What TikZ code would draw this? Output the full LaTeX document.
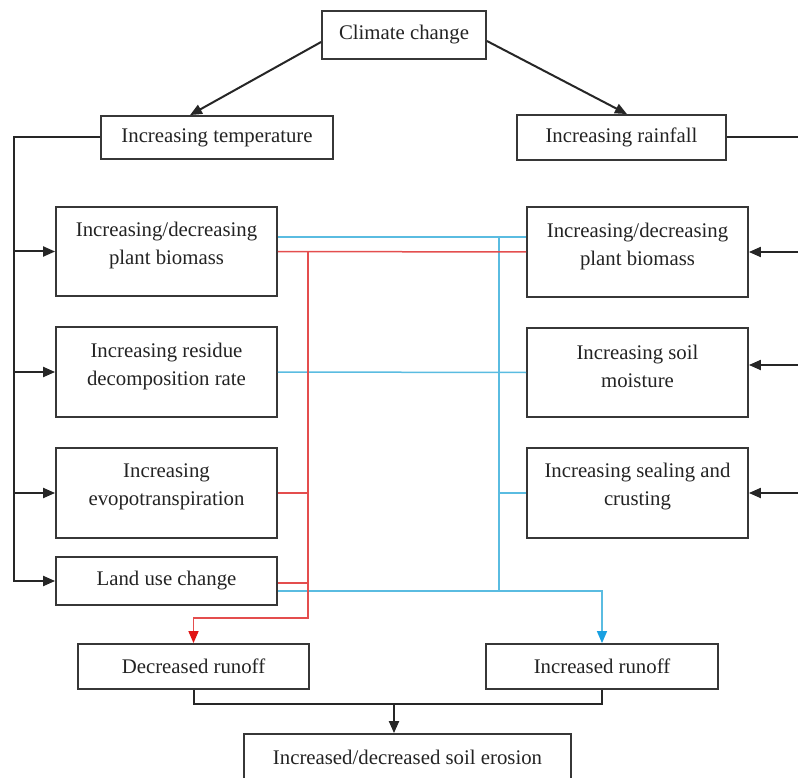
\documentclass[tikz,border=0pt]{standalone}
\usepackage{fontspec}
\setmainfont{Liberation Serif}
\usetikzlibrary{arrows.meta}
\definecolor{txt}{RGB}{35,35,35}
\definecolor{bord}{RGB}{55,55,55}
\definecolor{lblue}{RGB}{90,188,225}
\definecolor{lred}{RGB}{228,78,78}
\definecolor{ablue}{RGB}{25,160,225}
\definecolor{ared}{RGB}{225,20,20}
\begin{document}
\begin{tikzpicture}[x=1pt,y=-1pt,
  box/.style={draw=bord,line width=1.8pt,inner sep=0pt,align=center,text=txt,font=\fontsize{20.8}{28}\selectfont},
  tallbox/.style={draw=bord,line width=1.8pt,inner sep=0pt,minimum width=221pt,minimum height=90pt},
  lbl/.style={inner sep=0pt,align=center,text=txt,font=\fontsize{20.8}{28}\selectfont},
  conn/.style={line width=2pt,draw=black!85},
  arr/.style={conn,-{Triangle[length=12pt,width=10pt]}},
  bl/.style={line width=1.5pt,draw=lblue},
  rl/.style={line width=1.5pt,draw=lred},
  barr/.style={bl,-{Triangle[length=12pt,width=10pt,color=ablue]}},
  rarr/.style={rl,-{Triangle[length=12pt,width=10pt,color=ared]}}]
\useasboundingbox (0,0) rectangle (798,778);
% boxes
\node[box,minimum width=164pt,minimum height=48pt] (cc) at (404,35) {Climate change};
\node[box,minimum width=232pt,minimum height=43pt] (temp) at (217,137.5) {Increasing temperature};
\node[box,minimum width=209pt,minimum height=45pt] (rain) at (621.5,137.5) {Increasing rainfall};
\node[tallbox,minimum height=89pt] (lb) at (166.5,251.5) {};
\node[lbl] at ([yshift=6pt]lb.center) {Increasing/decreasing\\plant biomass};
\node[tallbox] (lr) at (166.5,372) {};
\node[lbl] at ([yshift=6pt]lr.center) {Increasing residue\\decomposition rate};
\node[tallbox] (le) at (166.5,493) {};
\node[lbl] at ([yshift=6pt]le.center) {Increasing\\evopotranspiration};
\node[box,minimum width=221pt,minimum height=48pt] (ll) at (166.5,581) {Land use change};
\node[tallbox] (rb) at (637.5,252) {};
\node[lbl] at ([yshift=6pt]rb.center) {Increasing/decreasing\\plant biomass};
\node[tallbox,minimum height=89pt] (rm) at (637.5,372.5) {};
\node[lbl] at ([yshift=6pt]rm.center) {Increasing soil\\moisture};
\node[tallbox] (rs) at (637.5,493) {};
\node[lbl] at ([yshift=6pt]rs.center) {Increasing sealing and\\crusting};
\node[box,minimum width=231pt,minimum height=45pt] (dr) at (193.5,666.5) {Decreased runoff};
\node[box,minimum width=232pt,minimum height=45pt] (ir) at (602,666.5) {Increased runoff};
\node[box,minimum width=327pt,minimum height=46pt] (se) at (407.5,757) {Increased/decreased soil erosion};
% top arrows
\draw[arr] ([yshift=-7pt]cc.west) -- ([xshift=-27pt]temp.north);
\draw[arr] ([yshift=-6pt]cc.east) -- ([xshift=5.5pt]rain.north);
% left feed
\coordinate (tl) at (14,581);
\draw[arr] (temp.west) -| (tl) -- (ll.west);
\draw[arr] (tl |- lb.west) -- (lb.west);
\draw[arr] (tl |- lr.west) -- (lr.west);
\draw[arr] (tl |- le.west) -- (le.west);
% right feed
\coordinate (rx) at (805,137.5);
\coordinate (rm2) at (805,365);
\draw[conn] (rain.east) -- (rx);
\draw[arr] (rx |- rb.east) -- (rb.east);
\draw[arr] (rm2) -- (rm.east |- rm2);
\draw[arr] (rx |- rs.east) -- (rs.east);
% blue lines
\coordinate (bT) at (499,237);
\coordinate (bB) at (499,591);
\draw[bl] (lb.east |- bT) -- (rb.west |- bT);
\draw[bl] (bT) -- (bB);
\draw[bl] (lr.east) -- (rm.west);
\draw[bl] (bT |- rs.west) -- (rs.west);
\draw[barr] (ll.east |- bB) -| (ir.north);
% red lines
\coordinate (rT) at (308,252);
\coordinate (rB) at (308,618);
\coordinate (rL) at (308,583);
\draw[rl] (lb.east) -- (rb.west);
\draw[rl] (le.east) -- (rT |- le.east);
\draw[rl] (ll.east |- rL) -- (rL);
\draw[rarr] (rT) -- (rB) -| (dr.north);
% bottom merge
\coordinate (jn) at (394,704);
\draw[conn] (dr.south) |- (jn) -| (ir.south);
\draw[arr] (jn) -- (jn |- se.north);
\end{tikzpicture}
\end{document}
